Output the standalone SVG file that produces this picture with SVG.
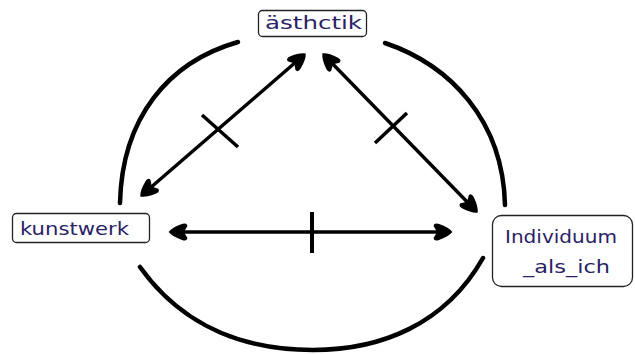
<svg xmlns="http://www.w3.org/2000/svg" width="635" height="354" viewBox="0 0 635 354">
<style>
.box{fill:#fff;stroke:#222;stroke-width:1.3}
.lbl{font-family:"DejaVu Sans","Liberation Sans",sans-serif;font-size:18px;fill:#2a2266}
.arc{fill:none;stroke:#000;stroke-width:4.5;stroke-linecap:round}
.conn{fill:none;stroke:#000;stroke-width:3.4}
.tick{fill:none;stroke:#000;stroke-width:3.5}
</style>
<defs>
<marker id="ah" viewBox="0 0 18 16" refX="15" refY="8" markerWidth="21" markerHeight="19" markerUnits="userSpaceOnUse" orient="auto-start-reverse">
<path d="M17,8 Q14,4 5,1 Q1,0 1,3 L4,8 L1,13 Q1,16 5,15 Q14,12 17,8 Z" fill="#000"/>
</marker>
</defs>
<rect width="635" height="354" fill="#fff"/>
<g id="circle">
<path class="arc" d="M238,42 C168,62 122,118 120,203"/>
<path class="arc" d="M385,43 C450,65 503,120 505,205"/>
<path class="arc" d="M140,267 C185,330 250,350 313,350 C380,350 445,325 483,258"/>
</g>
<g id="connectors">
<line class="conn" x1="142" y1="195" x2="304" y2="55" marker-start="url(#ah)" marker-end="url(#ah)"/>
<line class="tick" x1="202" y1="115" x2="238" y2="147"/>
<line class="conn" x1="324" y1="55" x2="476" y2="211" marker-start="url(#ah)" marker-end="url(#ah)"/>
<line class="tick" x1="407" y1="113" x2="375" y2="143"/>
<line class="conn" x1="171" y1="232" x2="450" y2="232" marker-start="url(#ah)" marker-end="url(#ah)"/>
<line class="tick" x1="312" y1="212" x2="312" y2="253" style="stroke-width:4"/>
</g>
<g id="node-aesthetik">
<rect class="box" x="258.5" y="10.5" width="108" height="26" rx="4"/>
<text class="lbl" x="265" y="29" textLength="97" lengthAdjust="spacingAndGlyphs">ästhctik</text>
</g>
<g id="node-kunstwerk">
<rect class="box" x="12.5" y="213.5" width="137" height="29" rx="4"/>
<text class="lbl" x="20" y="235" textLength="109" lengthAdjust="spacingAndGlyphs">kunstwerk</text>
</g>
<g id="node-individuum">
<rect class="box" x="492.5" y="215.5" width="140" height="71" rx="9"/>
<text class="lbl" x="505" y="243" textLength="112" lengthAdjust="spacingAndGlyphs">Individuum</text>
<text class="lbl" x="523" y="273" textLength="87" lengthAdjust="spacingAndGlyphs">_als_ich</text>
</g>
</svg>
